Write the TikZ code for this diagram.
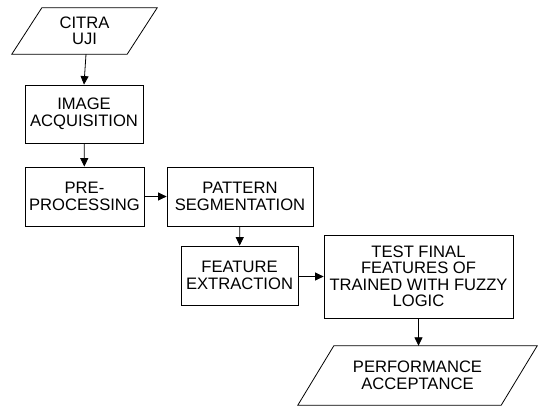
\documentclass[tikz,border=0pt]{standalone}
\usepackage{fontspec}
\setmainfont{Liberation Sans}
\usetikzlibrary{arrows.meta}

\tikzset{
  box/.style={draw, line width=0.8pt, align=center, inner sep=0pt,
    font=\fontsize{16.6}{16.5}\selectfont},
  iobox/.style={align=center, inner sep=0pt,
    font=\fontsize{16.6}{16.5}\selectfont},
  flow/.style={line width=0.8pt, -{Triangle[length=8.5pt,width=8pt]}},
}

\begin{document}
\begin{tikzpicture}[x=1pt, y=-1pt]
            \useasboundingbox (0,0) rectangle (538,408);
            \node[iobox, minimum width=145, minimum height=46] (citra) at (84.5,31) {CITRA\\UJI};
            \node[box, minimum width=118, minimum height=58] (acq) at (84,114) {IMAGE\\ACQUISITION};
            \node[box, minimum width=119, minimum height=59] (pre) at (84.5,196.5) {PRE-\\PROCESSING};
            \node[box, minimum width=146, minimum height=59] (pat) at (240,196.5) {PATTERN\\SEGMENTATION};
            \node[box, minimum width=117, minimum height=59] (feat) at (239.5,275.5) {FEATURE\\EXTRACTION};
            \node[box, minimum width=189, minimum height=83] (test) at (418.5,276.5) {TEST FINAL\\FEATURES OF\\TRAINED WITH FUZZY\\LOGIC};
            \node[iobox, minimum width=239, minimum height=59] (perf) at (417.5,375.5) {PERFORMANCE\\ACCEPTANCE};
            % parallelograms for input and output
            \draw[line width=0.8pt] ([xshift=30pt]citra.north west) -- (citra.north east)
               -- ([xshift=-30pt]citra.south east) -- (citra.south west) -- cycle;
            \draw[line width=0.8pt] ([xshift=36pt]perf.north west) -- (perf.north east)
               -- ([xshift=-36pt]perf.south east) -- (perf.south west) -- cycle;
            \draw[flow] ([xshift=1.5pt]citra.south) -- (acq.north);
            \draw[flow] (acq) -- (pre);
            \draw[flow] (pre) -- (pat);
            \draw[flow] (pat) -- (feat);
            \draw[flow] (feat.east |- test) -- (test.west);
            \draw[flow] (test.south) -- (test.south |- perf.north);
        \end{tikzpicture}
\end{document}
